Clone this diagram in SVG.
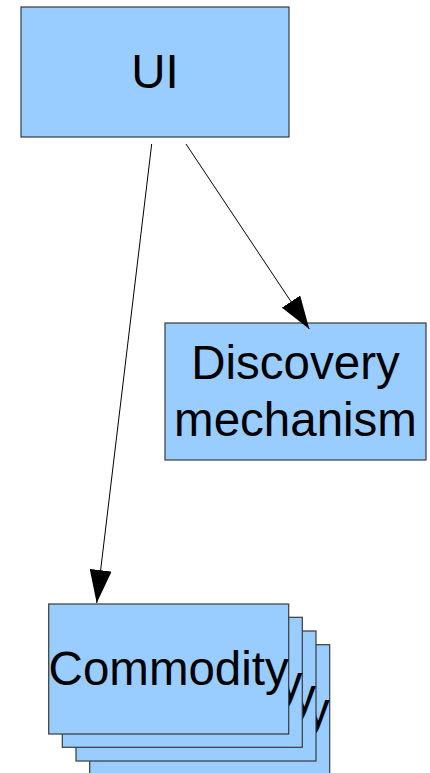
<svg xmlns="http://www.w3.org/2000/svg" width="430" height="773" viewBox="0 0 430 773">
<style>
.box{fill:#99ccff;stroke:#3a3a3a;stroke-width:1.2}
.lbl{font-family:"Liberation Sans",Arial,sans-serif;font-size:47.5px;fill:#000;text-anchor:middle}
.conn{stroke:#000;stroke-width:1;fill:none}
</style>
<defs>
<marker id="arr" markerUnits="userSpaceOnUse" viewBox="0 -11 33 22" refX="33" refY="0" markerWidth="33" markerHeight="22" orient="auto">
<path d="M0,-11 L33,0 L0,11 z" fill="#000"/>
</marker>
</defs>
<rect x="0" y="0" width="430" height="773" fill="#fff"/>
<g id="ui">
<rect class="box" x="21" y="7" width="268" height="130"/>
<text class="lbl" x="155" y="88">UI</text>
</g>
<g id="discovery">
<rect class="box" x="165" y="323" width="261" height="137"/>
<text class="lbl" x="295.5" y="379">Discovery</text>
<text class="lbl" x="295.5" y="436">mechanism</text>
</g>
<g id="commodity">
<rect class="box" x="89.7" y="644.7" width="240" height="130"/>
<text class="lbl" x="209.7" y="726">Commodity</text>
<rect class="box" x="76" y="631" width="240" height="130"/>
<text class="lbl" x="196" y="712.3">Commodity</text>
<rect class="box" x="62.3" y="617.3" width="240" height="130"/>
<text class="lbl" x="182.3" y="698.6">Commodity</text>
<rect class="box" x="48.7" y="604" width="240" height="130"/>
<text class="lbl" x="168.7" y="685">Commodity</text>
</g>
<g id="connectors">
<line class="conn" x1="151.7" y1="144" x2="96.7" y2="603" marker-end="url(#arr)"/>
<line class="conn" x1="186" y1="144" x2="309.3" y2="329" marker-end="url(#arr)"/>
</g>
</svg>
